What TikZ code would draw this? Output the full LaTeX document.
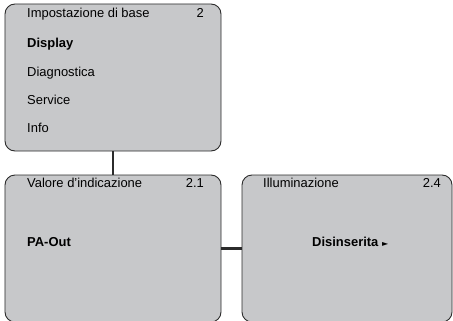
\documentclass[tikz,border=0pt]{standalone}
\usepackage{fontspec}
\setmainfont{Liberation Sans}
\newfontfamily\symfont{DejaVu Sans}
\usetikzlibrary{calc}

\definecolor{menugray}{HTML}{C7C8CA}
\definecolor{menuline}{HTML}{2B2B2B}

\begin{document}
\begin{tikzpicture}[
    x=1bp, y=1bp,
    menubox/.style={draw=menuline, fill=menugray, line width=0.9bp, rounded corners=10bp, inner sep=0pt},
    link/.style={draw=menuline, line width=2.6bp},
    itemtext/.style={anchor=base west, inner sep=0pt, font=\fontsize{13}{15}\selectfont},
    titletext/.style={itemtext},
    numtext/.style={anchor=base east, inner sep=0pt, font=\fontsize{13}{15}\selectfont},
    boldtext/.style={itemtext, font=\fontsize{13}{15}\selectfont\bfseries}
]
\useasboundingbox (0,0) rectangle (453,320);
\begin{scope}
\clip (0,0) rectangle (453,320);
% menu windows
\node[menubox, minimum width=216bp, minimum height=147bp] (base) at (113,242.5) {};
\node[menubox, minimum width=216bp, minimum height=147bp] (display) at (113,71.5) {};
\node[menubox, minimum width=210bp, minimum height=147bp] (illum) at (347,71.5) {};
% connectors
\draw[link] (base.south) -- (display.north);
\draw[link] (display.east) -- (illum.west);
\end{scope}
% texts of the main menu
\node[titletext] (t1) at (27,303) {Impostazione di base};
\node[numtext] (n1) at (204,303) {2};
\node[boldtext] (m1) at (27,273) {Display};
\node[itemtext] (m2) at (27,244) {Diagnostica};
\node[itemtext] (m3) at (27,216) {Service};
\node[itemtext] (m4) at (27,188) {Info};
% texts of the display window
\node[titletext] (t2) at (27,133) {Valore d'indicazione};
\node[numtext] (n2) at (204,133) {2.1};
\node[boldtext] (v2) at (27,74) {PA-Out};
% texts of the lighting window
\node[titletext] (t3) at (263,133) {Illuminazione};
\node[numtext] (n3) at (441,133) {2.4};
\node[boldtext] (v3) at (312,74) {Disinserita \symfont\fontsize{8}{9}\selectfont►};
\end{tikzpicture}
\end{document}
